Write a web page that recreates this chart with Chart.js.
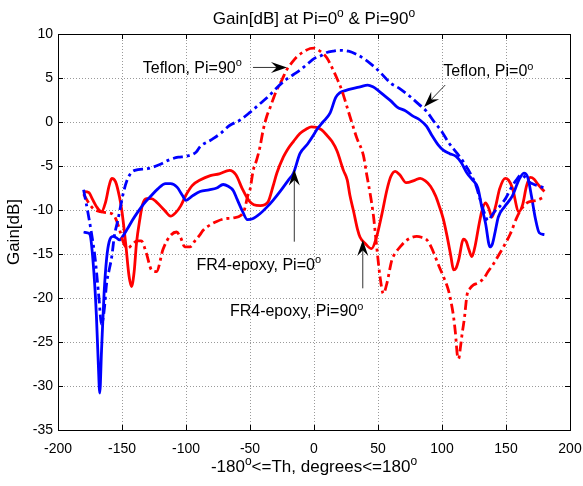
<!DOCTYPE html>
<html><head><meta charset="utf-8">
<script src="https://cdn.jsdelivr.net/npm/chart.js@4.4.1/dist/chart.umd.min.js"></script>
<style>html,body{margin:0;padding:0;background:#fff;}#wrap{width:583px;height:486px;}</style>
</head><body><div id="wrap"><canvas id="c" width="583" height="486"></canvas></div>
<script>
// ---------- data ----------
const xTicks = [-200,-150,-100,-50,0,50,100,150,200];
const yTicks = [-35,-30,-25,-20,-15,-10,-5,0,5,10];

const thTeflon0 = [-180,-177,-174,-171,-168,-166,-164,-162,-160,-158,-156,-153,-151,-149,-146,-143,-140,-130,-120,-113,-106,-100,-92,-89,-80,-73,-66,-58,-50,-42,-35,-29,-22,-16,-11,-5,0,5,10,15,20,27,33,40,46,52,60,67,75,82,88,95,99,105,112,117,122,126,130,133,136,139,142,145,150,154,158,162,165,168,172,176,180];
const gTeflon0 = [-7.7,-10,-12.5,-15.5,-20,-23,-21.5,-18.3,-16.8,-15.3,-13,-11,-9.5,-8.1,-6.6,-5.8,-5.5,-5.3,-4.8,-4.3,-4,-3.9,-3.4,-2.8,-2,-1.3,-0.4,0.2,1.1,2.1,3,3.9,4.8,5.4,5.9,6.6,7.2,7.5,7.9,8.05,8.15,8.05,7.7,7.1,6.4,5.6,4.4,3.8,2.9,2.0,1.2,-0.2,-0.9,-2.3,-3.6,-4.6,-5.8,-7,-8.9,-10.3,-11.2,-10.6,-10,-9.6,-8.6,-7.5,-6.6,-6.0,-6.3,-6.8,-7.1,-7.3,-7.5];

const thFR40 = [-180,-177,-175,-172,-170,-168.5,-167.4,-166,-164,-162,-160,-157,-154,-152,-149,-146,-142,-138,-133,-128,-122,-116,-112,-107,-103,-100,-95,-89,-82,-76,-71,-67,-63,-60,-56,-52,-48,-42,-37,-32,-26,-20,-16,-11,-5,0,2,7,12.5,17,20,25,30,36,42,46,50,55,60,65,71,77,83,88,92,97,101,106,111,115,119.5,124,128,131,134,137.5,139.5,141.5,144,149,155,160,164,167,170,173,176,180];
const gFR40 = [-12.5,-12.6,-12.8,-17,-22,-27.5,-30.8,-26,-19.5,-15.5,-13.6,-13,-13.2,-13.4,-12.9,-12.2,-11.2,-10.3,-9.3,-8.5,-7.6,-7.0,-7.0,-7.4,-8.3,-8.9,-8.4,-7.9,-7.7,-7.5,-7.1,-7.3,-7.8,-8.8,-10.1,-11.1,-11.0,-10.4,-9.7,-8.9,-7.8,-6.6,-5.8,-3.6,-2.5,-1.4,-0.9,0,1.0,2.8,3.3,3.6,3.8,4.0,4.2,4.0,3.6,3.0,2.4,1.7,1.3,0.7,0.2,-0.5,-1.5,-2.6,-3.2,-3.6,-3.9,-4.6,-5.8,-6.6,-7.5,-9.6,-11.5,-14.2,-13.8,-12.5,-10.8,-9.6,-8.4,-6.6,-5.8,-6.3,-8.5,-11,-12.6,-12.8];

const thFR490 = [-180,-176,-173,-170,-166,-163,-160,-158,-155,-152,-150,-147,-144.5,-142.6,-140.5,-138.7,-136,-134,-131,-127,-123,-117,-112,-108,-104,-100,-95,-89,-81,-74,-66,-61,-56,-51,-47,-42,-36,-32,-29,-24,-21,-16,-11,-6,-2,2,6,10,14,18,23,26,28,31,34,36,40,45,49,53,57,60,63.4,67,72,79,83,87,91,95,97.5,101,104,107,109,111,113,116.8,119,121,123.4,126,128.6,131,134,136.5,139,142,145,149.4,152,155,160,163,166,169,172,175,180];
const gFR490 = [-7.9,-8.0,-8.8,-9.6,-10.2,-9.2,-7.2,-6.4,-6.8,-8.5,-10.2,-14,-17.5,-18.7,-17,-13.8,-11,-9.4,-8.7,-8.7,-9.1,-10,-10.7,-10.3,-9.5,-8.3,-7.2,-6.6,-6.1,-5.9,-5.5,-6.0,-7.6,-8.9,-9.4,-9.5,-9.1,-7.3,-5.8,-4.0,-3.2,-2.2,-1.3,-0.8,-0.55,-0.6,-0.9,-1.5,-2.2,-3.3,-5.5,-6.6,-8.3,-10.2,-12.2,-13.1,-13.8,-14.4,-13,-10.5,-7.7,-6.2,-5.6,-6.0,-6.9,-6.6,-6.4,-6.7,-7.3,-8.4,-9.4,-11,-13,-15.3,-16.8,-16.6,-15.7,-13.3,-13.6,-14.5,-15.3,-14,-11.9,-10.2,-9.2,-9.8,-10.8,-9.5,-7.6,-6.4,-6.6,-7.5,-10.2,-9.4,-7.3,-6.3,-6.5,-7.1,-7.9];

const thTeflon90 = [-180,-176,-172,-167,-162,-157,-154,-151.8,-148,-145,-142.6,-138,-135,-131,-127,-123,-118,-112.7,-107.4,-104,-101,-97,-93,-89,-86.6,-80,-76,-70,-63,-57,-54,-52,-50,-47.5,-44.8,-42.3,-39.7,-37,-34.4,-29.2,-25,-21.4,-17,-13.5,-9,-3,0,2,6,10,14,17.8,22,25.6,29,33.4,38.6,41.2,43.8,46.4,48.5,51.6,54.2,57,60.8,64,67.3,71,75,80.3,84,88.2,91.5,94.7,98,101.2,105,107,109,110.5,112,113,114.5,115.6,117.5,119.5,122,124.6,128,132.5,136,140.3,144,148,153.4,158.6,162,166.4,170,174.2,180];
const gTeflon90 = [-8.2,-9.2,-9.9,-10.2,-10.3,-10.5,-11.3,-12.3,-14,-14.3,-14,-13.5,-13.5,-14.9,-16.8,-17,-14.5,-13,-12.5,-13.2,-14.2,-14.2,-13.5,-12.8,-12.3,-11.6,-11.3,-11.0,-10.9,-10.6,-9.8,-8.5,-7.7,-5.5,-4.3,-2.9,-0.9,0.6,1.6,3.6,4.8,5.9,6.8,7.4,7.9,8.35,8.4,8.3,7.9,7.3,6.2,5.0,3.5,1.8,0.2,-1.8,-3.8,-6.0,-8.1,-10.6,-13.5,-17.6,-19.5,-18.3,-15.7,-14.8,-14.2,-13.6,-13.2,-13.0,-13.1,-13.4,-14.2,-15.3,-16.5,-17.6,-19.1,-20.4,-22.1,-24,-26.5,-26.9,-25.5,-24.2,-22.3,-19.7,-18.9,-18.5,-18.3,-17.8,-17,-16.1,-15.2,-14.2,-12.7,-10.8,-9.9,-9.2,-9.0,-8.9,-8.5];

// ---------- texts ----------
const titleParts = [['Gain[dB] at Pi=0',0],['o',1],[' & Pi=90',0],['o',1]];
const xLabelParts = [['-180',0],['o',1],['<=Th, degrees<=180',0],['o',1]];
const yLabelText = 'Gain[dB]';
const notes = [
  {parts:[['Teflon, Pi=90',0],['o',1]], tx:-133.8, ty:5.6, from:[-47.7,6.2], to:[-21.1,6.2]},
  {parts:[['Teflon, Pi=0',0],['o',1]], tx:101, ty:5.2, from:[102.5,4.2], to:[86,1.7]},
  {parts:[['FR4-epoxy, Pi=0',0],['o',1]], tx:-91.8, ty:-16.8, from:[-15.4,-13.6], to:[-15.4,-5.4]},
  {parts:[['FR4-epoxy, Pi=90',0],['o',1]], tx:-65.7, ty:-22.1, from:[38.1,-18.9], to:[38.1,-13.4]}
];

const FAM = '"Liberation Sans", Arial, Helvetica, sans-serif';
const pts = (xs, ys) => xs.map((x,i)=>({x, y: ys[i]}));
const DASHDOT = [10,4,3,4];

function richWidth(ctx, parts, size){
  let w=0;
  for(const [t,s] of parts){ ctx.font = (s? Math.round(size*0.68):size)+'px '+FAM; w+=ctx.measureText(t).width; }
  return w;
}
function drawRich(ctx, parts, x, y, size, align){
  const w = richWidth(ctx, parts, size);
  let cx = align==='center' ? x - w/2 : x;
  ctx.textBaseline='alphabetic'; ctx.textAlign='left';
  for(const [t,s] of parts){
    ctx.font = (s? Math.round(size*0.68):size)+'px '+FAM;
    ctx.fillText(t, cx, s ? y - size*0.42 : y);
    cx += ctx.measureText(t).width;
  }
}
function arrow(ctx, x1,y1,x2,y2){
  ctx.save();
  ctx.strokeStyle='#333'; ctx.fillStyle='#000'; ctx.lineWidth=1;
  const a = Math.atan2(y2-y1, x2-x1), L=16, W=5.5;
  ctx.beginPath(); ctx.moveTo(x1,y1); ctx.lineTo(x2-Math.cos(a)*L*0.6, y2-Math.sin(a)*L*0.6); ctx.stroke();
  ctx.translate(x2,y2); ctx.rotate(a);
  ctx.beginPath(); ctx.moveTo(0,0); ctx.lineTo(-L,-W); ctx.lineTo(-L*0.65,0); ctx.lineTo(-L,W); ctx.closePath(); ctx.fill();
  ctx.restore();
}

const gridPlugin = {
  id:'dotgrid',
  beforeDatasetsDraw(chart){
    const ctx = chart.ctx, a = chart.chartArea, xs = chart.scales.x, ys = chart.scales.y;
    ctx.save();
    ctx.strokeStyle='#9a9a9a'; ctx.lineWidth=1; ctx.setLineDash([1,2]);
    ctx.beginPath();
    for(const v of xTicks){ const p=Math.round(xs.getPixelForValue(v))+0.5; ctx.moveTo(p,a.top); ctx.lineTo(p,a.bottom); }
    for(const v of yTicks){ const p=Math.round(ys.getPixelForValue(v))+0.5; ctx.moveTo(a.left,p); ctx.lineTo(a.right,p); }
    ctx.stroke();
    ctx.restore();
  }
};

const decor = {
  id:'decor',
  afterDraw(chart){
    const ctx = chart.ctx, a = chart.chartArea, xs = chart.scales.x, ys = chart.scales.y;
    ctx.save();
    ctx.strokeStyle='#000'; ctx.lineWidth=1;
    ctx.beginPath();
    for(const v of xTicks){ const p=Math.round(xs.getPixelForValue(v))+0.5;
      ctx.moveTo(p,a.bottom); ctx.lineTo(p,a.bottom-5); ctx.moveTo(p,a.top); ctx.lineTo(p,a.top+5); }
    for(const v of yTicks){ const p=Math.round(ys.getPixelForValue(v))+0.5;
      ctx.moveTo(a.left,p); ctx.lineTo(a.left+5,p); ctx.moveTo(a.right,p); ctx.lineTo(a.right-5,p); }
    ctx.stroke();
    ctx.strokeRect(Math.round(a.left)+0.5, Math.round(a.top)+0.5, Math.round(a.right-a.left), Math.round(a.bottom-a.top));
    ctx.fillStyle='#000';
    const cxm = (a.left+a.right)/2;
    drawRich(ctx, titleParts, cxm, 24, 17, 'center');
    drawRich(ctx, xLabelParts, cxm, 472, 17, 'center');
    ctx.save(); ctx.translate(19,(a.top+a.bottom)/2); ctx.rotate(-Math.PI/2);
    ctx.font='17px '+FAM; ctx.textAlign='center'; ctx.textBaseline='alphabetic'; ctx.fillText(yLabelText,0,0); ctx.restore();
    for(const n of notes){
      drawRich(ctx, n.parts, xs.getPixelForValue(n.tx), ys.getPixelForValue(n.ty), 16, 'left');
      arrow(ctx, xs.getPixelForValue(n.from[0]), ys.getPixelForValue(n.from[1]), xs.getPixelForValue(n.to[0]), ys.getPixelForValue(n.to[1]));
    }
    ctx.restore();
  }
};

const common = {pointRadius:0, borderWidth:2.8, fill:false, cubicInterpolationMode:'monotone'};
new Chart(document.getElementById('c'), {
  type:'line',
  data:{datasets:[
    Object.assign({label:'Teflon, Pi=0', data:pts(thTeflon0,gTeflon0), borderColor:'#0000ff', borderDash:DASHDOT}, common),
    Object.assign({label:'Teflon, Pi=90', data:pts(thTeflon90,gTeflon90), borderColor:'#ff0000', borderDash:DASHDOT}, common),
    Object.assign({label:'FR4-epoxy, Pi=0', data:pts(thFR40,gFR40), borderColor:'#0000ff'}, common),
    Object.assign({label:'FR4-epoxy, Pi=90', data:pts(thFR490,gFR490), borderColor:'#ff0000'}, common)
  ]},
  options:{
    responsive:false, animation:false, devicePixelRatio:1,
    layout:{padding:{top:34, right:13, left:0, bottom:0}},
    plugins:{legend:{display:false}, tooltip:{enabled:false}, title:{display:false}},
    scales:{
      x:{type:'linear', min:-200, max:200,
         afterBuildTicks(s){ s.ticks = xTicks.map(v=>({value:v})); },
         ticks:{color:'#000', font:{family:FAM, size:14}, padding:11, maxRotation:0, autoSkip:false},
         grid:{display:false, drawTicks:false},
         border:{display:false},
         afterFit(s){ s.height = 56; s.paddingLeft = 0; s.paddingRight = 0; }},
      y:{type:'linear', min:-35, max:10,
         afterBuildTicks(s){ s.ticks = yTicks.map(v=>({value:v})); },
         ticks:{color:'#000', font:{family:FAM, size:14}, padding:5, autoSkip:false},
         grid:{display:false, drawTicks:false},
         border:{display:false},
         afterFit(s){ s.width = 58; s.paddingTop = 0; s.paddingBottom = 0; }}
    }
  },
  plugins:[gridPlugin, decor]
});
</script></body></html>
